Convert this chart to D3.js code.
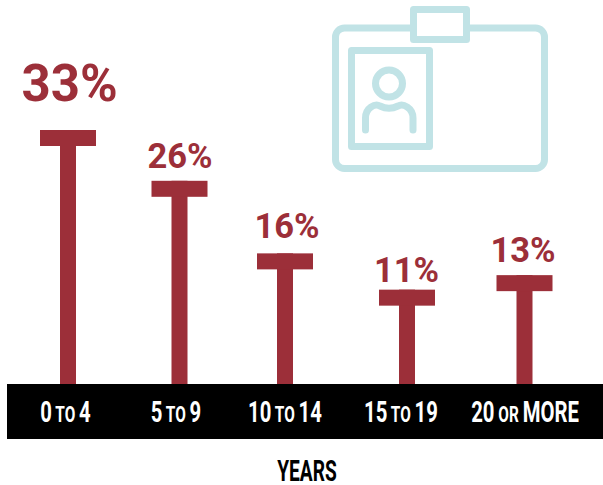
<!DOCTYPE html>
<html>
<head>
<meta charset="utf-8">
<script src="https://cdn.jsdelivr.net/npm/d3@7"></script>
<style>
  html, body { margin: 0; padding: 0; background: #fff; }
  svg { display: block; }
</style>
</head>
<body>
<svg id="chart" width="603" height="485"></svg>
<script>
// Share of respondents by length of time, in years
const categories = ["0 to 4", "5 to 9", "10 to 14", "15 to 19", "20 or more"];
const shares = [33, 26, 16, 11, 13];
const shareLabels = ["33%", "26%", "16%", "11%", "13%"];
const axisParts = [
  ["0", " TO ", "4"],
  ["5", " TO ", "9"],
  ["10", " TO ", "14"],
  ["15", " TO ", "19"],
  ["20", " OR ", "MORE"]
];
const axisTitle = "YEARS";

const RED = "#9c2f39";
const TEAL = "#c1e3e6";
const svg = d3.select("#chart");

// Columns are hand-spaced, so the ordinal range holds their centres
const x = d3.scaleOrdinal().domain(categories).range([68, 179.5, 285, 407, 524.5]);
const y = d3.scaleLinear().domain([-2, 33]).range([384, 130]);

const bandTop = 384, bandBottom = 439;

// Hand adjustments for the text above and below each column
const labelShiftX = [1.5, 0.5, 2, -0.5, -1.5];
const labelGapY = [29, 13, 15, 8, 13];
const tickShiftX = [-2.5, -3.5, 0, -6, 0.5];

// Badge pictogram
const icon = svg.append("g")
  .attr("fill", "none")
  .attr("stroke", TEAL)
  .attr("stroke-width", 7)
  .attr("stroke-linejoin", "round")
  .attr("stroke-linecap", "round");
icon.append("rect").attr("x", 335.5).attr("y", 28).attr("width", 209).attr("height", 140.5).attr("rx", 9);
icon.append("rect").attr("x", 413.5).attr("y", 9.5).attr("width", 53).attr("height", 30).attr("fill", "#fff");
icon.append("rect").attr("x", 351.5).attr("y", 50.5).attr("width", 78).attr("height", 96).attr("fill", "#fff");
icon.append("circle").attr("cx", 389).attr("cy", 83.5).attr("r", 13.5);
icon.append("path").attr("d", "M365.5,130 V118 C365.5,108 375,103 380,106 C386,109 392,109 398,106 C403,103 413,108 413,118 V130");

// Axis band behind the category labels
svg.append("rect")
  .attr("x", 7).attr("y", bandTop)
  .attr("width", 596).attr("height", bandBottom - bandTop)
  .attr("fill", "#000");

const rows = categories.map((c, i) => ({ c, v: shares[i], label: shareLabels[i], parts: axisParts[i] }));
const capW = 56, capH = 16, stemW = 16;

const col = svg.append("g").selectAll("g").data(rows).join("g");

col.append("rect")
  .attr("x", d => x(d.c) - stemW / 2)
  .attr("y", d => y(d.v))
  .attr("width", stemW)
  .attr("height", d => bandTop - y(d.v))
  .attr("fill", RED);

col.append("rect")
  .attr("x", d => x(d.c) - capW / 2)
  .attr("y", d => y(d.v))
  .attr("width", capW)
  .attr("height", capH)
  .attr("fill", RED);

// The leading column carries a larger value label
col.append("text")
  .attr("x", (d, i) => x(d.c) + labelShiftX[i])
  .attr("y", (d, i) => y(d.v) - labelGapY[i])
  .attr("text-anchor", "middle")
  .attr("font-family", "Roboto, sans-serif")
  .attr("font-weight", 700)
  .attr("font-size", (d, i) => i === 0 ? 51 : 34.5)
  .attr("fill", RED)
  .text(d => d.label);

// Category labels: numerals large, connecting word small, all condensed
const tick = col.append("text")
  .attr("transform", (d, i) => `translate(${x(d.c) + tickShiftX[i]},422) scale(0.7,1)`)
  .attr("text-anchor", "middle")
  .attr("font-family", "Roboto, sans-serif")
  .attr("font-weight", 700)
  .attr("font-size", 29)
  .attr("fill", "#fff");
tick.selectAll("tspan").data(d => d.parts).join("tspan")
  .attr("font-size", (d, i) => i === 1 ? 22 : 29)
  .text(d => d);

svg.append("text")
  .attr("transform", "translate(307,481) scale(0.66,1)")
  .attr("text-anchor", "middle")
  .attr("font-family", "Roboto, sans-serif")
  .attr("font-weight", 700)
  .attr("font-size", 29)
  .attr("fill", "#000")
  .text(axisTitle);
</script>
</body>
</html>
